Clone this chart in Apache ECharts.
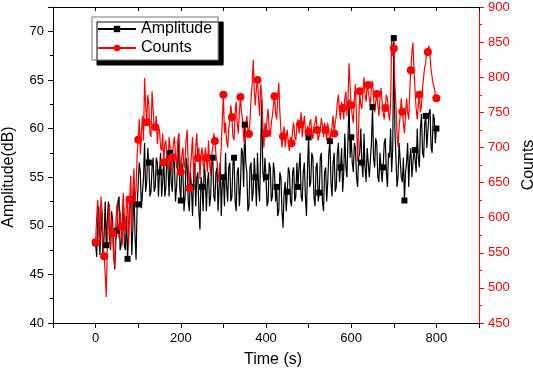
<!DOCTYPE html>
<html>
<head>
<meta charset="UTF-8">
<title>Amplitude and Counts</title>
<style>
    html, body { margin: 0; padding: 0; background: #fff; }
    #chartArea { width: 533px; height: 368px; }
</style>
</head>
<body>
<div id="chartArea"></div>
<script src="https://cdn.jsdelivr.net/npm/echarts@6/dist/echarts.min.js"></script>
<script>
// sampled every 2.5 s, from 0 to 800 s
var timeStep = 2.5;

var amplitude = [
    48.2, 46.8, 50.5, 52.0, 47.0, 49.5, 51.5, 46.5, 49.0, 52.5, 48.0, 50.5, 52.5, 49.0, 47.5, 51.5, 50.5, 47.0, 45.5, 48.5,
    49.5, 52.5, 53.0, 47.5, 48.0, 50.0, 52.8, 48.0, 47.5, 51.0, 46.6, 49.0, 52.5, 53.0, 47.0, 50.0, 54.0, 49.0, 46.5, 52.0,
    52.2, 56.5, 55.5, 51.8, 52.0, 55.0, 58.5, 53.5, 54.5, 58.0, 56.5, 53.0, 53.5, 56.0, 57.0, 53.5, 54.0, 57.0, 56.5, 53.0,
    55.5, 57.5, 53.0, 54.5, 57.0, 53.0, 54.0, 57.5, 56.0, 53.0, 57.5, 54.5, 53.5, 57.0, 56.5, 52.5, 54.0, 56.0, 59.5, 54.0,
    52.6, 56.5, 55.5, 51.5, 53.0, 57.0, 56.0, 52.5, 51.5, 55.5, 54.0, 51.0, 55.0, 56.5, 52.0, 55.0, 55.5, 51.5, 49.6, 55.0,
    54.0, 51.5, 56.5, 55.0, 51.5, 54.5, 55.5, 52.0, 53.0, 56.5, 57.0, 53.0, 52.5, 55.5, 56.0, 51.5, 54.0, 56.5, 51.0, 54.5,
    55.0, 52.0, 57.5, 54.0, 52.5, 56.0, 56.5, 52.5, 53.0, 56.5, 57.0, 52.5, 51.5, 55.5, 56.0, 52.0, 54.0, 58.0, 57.5, 54.0,
    60.4, 56.5, 55.5, 51.5, 52.0, 56.0, 56.5, 52.5, 53.5, 57.0, 55.0, 52.0, 57.5, 54.0, 52.5, 57.5, 63.0, 55.5, 54.5, 57.0,
    55.0, 52.0, 52.5, 56.5, 56.0, 52.5, 53.0, 56.5, 55.5, 52.5, 54.0, 51.0, 51.5, 55.5, 55.0, 51.5, 49.8, 53.5, 54.5, 51.5,
    53.5, 56.0, 55.5, 52.5, 52.0, 55.5, 56.0, 52.5, 53.0, 56.5, 54.0, 56.0, 57.5, 53.0, 52.5, 55.5, 56.5, 53.0, 51.0, 56.0,
    59.1, 54.0, 54.5, 57.5, 57.0, 53.0, 52.0, 56.0, 56.5, 52.5, 53.4, 57.0, 57.5, 52.5, 51.5, 55.5, 56.0, 52.5, 54.5, 57.5,
    58.7, 54.5, 53.0, 56.5, 57.5, 53.5, 54.0, 57.5, 58.5, 54.5, 56.0, 58.0, 53.5, 55.5, 59.5, 56.0, 55.0, 59.0, 63.0, 57.0,
    59.1, 56.5, 55.5, 58.5, 58.0, 55.0, 54.0, 57.0, 57.5, 60.0, 56.5, 55.0, 59.5, 56.0, 54.5, 58.0, 58.0, 55.0, 55.0, 58.5,
    62.2, 57.0, 56.0, 59.0, 58.5, 55.0, 54.5, 57.5, 57.5, 54.5, 56.0, 58.5, 59.0, 55.5, 54.0, 57.5, 57.0, 60.0, 55.5, 58.0,
    69.3, 60.0, 57.0, 54.0, 55.0, 58.5, 58.5, 55.0, 54.5, 57.0, 52.6, 55.5, 56.5, 58.5, 54.0, 57.0, 58.0, 55.0, 55.0, 58.0,
    57.8, 55.5, 60.0, 57.0, 56.0, 60.0, 61.5, 57.5, 57.0, 60.5, 61.3, 58.0, 58.0, 61.5, 62.0, 58.0, 57.5, 61.5, 61.0, 58.5,
    60.0
];

var counts = [
    565, 600, 625, 575, 560, 630, 610, 560, 545, 520, 487, 560, 600, 620, 555, 600, 578, 545, 530, 590,
    620, 590, 570, 610, 587, 560, 635, 600, 575, 630, 615, 560, 626, 660, 580, 640, 670, 620, 640, 690,
    711, 740, 690, 720, 745, 710, 799, 760, 736, 775, 760, 720, 715, 780, 755, 725, 729, 745, 705, 730,
    725, 700, 695, 720, 679, 705, 710, 685, 670, 715, 700, 665, 686, 705, 715, 690, 670, 705, 720, 690,
    665, 690, 700, 670, 680, 710, 725, 675, 642, 670, 690, 715, 665, 650, 700, 720, 685, 700, 655, 690,
    700, 675, 670, 700, 685, 665, 710, 680, 660, 690, 700, 720, 709, 690, 680, 665, 650, 675, 700, 740,
    775, 720, 735, 710, 700, 725, 740, 760, 743, 715, 710, 750, 765, 735, 720, 750, 772, 750, 740, 715,
    705, 730, 745, 725, 719, 740, 770, 790, 825, 780, 760, 785, 796, 770, 745, 790, 775, 730, 700, 735,
    720, 740, 755, 725, 715, 735, 745, 760, 773, 750, 740, 770, 792, 750, 725, 700, 716, 730, 700, 715,
    725, 705, 695, 715, 706, 725, 735, 715, 710, 730, 740, 720, 733, 750, 715, 730, 745, 725, 710, 730,
    722, 735, 740, 720, 712, 730, 735, 745, 725, 710, 708, 725, 742, 730, 715, 735, 725, 710, 735, 720,
    705, 720, 730, 745, 720, 735, 745, 765, 775, 750, 740, 765, 756, 740, 770, 780, 745, 770, 820, 785,
    760, 745, 735, 770, 790, 740, 680, 730, 780, 760, 755, 780, 800, 775, 765, 790, 789, 770, 760, 785,
    795, 770, 750, 765, 776, 760, 745, 770, 785, 765, 750, 740, 756, 775, 770, 750, 738, 760, 856, 830,
    841, 790, 760, 720, 700, 730, 745, 770, 751, 735, 720, 745, 770, 750, 740, 780, 810, 835, 849, 810,
    780, 755, 740, 760, 775, 750, 760, 785, 800, 815, 820, 840, 836, 845, 830, 810, 800, 790, 785, 775,
    770
];

var xTickLabels = [0, 200, 400, 600, 800];

function pairs(values) {
    return values.map(function (v, i) { return [i * timeStep, v]; });
}

var font = 'Liberation Sans, Arial, sans-serif';
var myChart = echarts.init(document.getElementById('chartArea'));

myChart.setOption({
    animation: false,
    backgroundColor: '#fff',
    grid: { left: 53, right: 54, top: 7, bottom: 45, containLabel: false, outerBoundsMode: 'none' },
    legend: {
        left: 92,
        top: 17,
        orient: 'vertical',
        data: ['Amplitude', 'Counts'],
        itemWidth: 38,
        itemHeight: 8,
        itemGap: 3,
        padding: [4, 6, 4, 5],
        backgroundColor: '#fff',
        borderColor: '#777',
        borderWidth: 1,
        borderRadius: 0,
        shadowColor: '#000',
        shadowBlur: 0,
        shadowOffsetX: 5,
        shadowOffsetY: 5,
        textStyle: { fontFamily: font, fontSize: 16, color: '#000' }
    },
    xAxis: [
        {
            type: 'value',
            min: -100,
            max: 900,
            interval: 100,
            name: 'Time (s)',
            nameLocation: 'middle',
            nameGap: 29,
            nameTextStyle: { fontFamily: font, fontSize: 16, color: '#000', padding: [0, 0, 0, 14] },
            axisLine: { show: true, onZero: false, lineStyle: { color: '#000', width: 1 } },
            axisTick: { show: true, inside: false, length: 5, lineStyle: { color: '#000' } },
            axisLabel: {
                margin: 9,
                fontFamily: font,
                fontSize: 13,
                color: '#000',
                formatter: function (v) {
                    return xTickLabels.indexOf(v) >= 0 ? String(v) : '';
                }
            },
            splitLine: { show: false }
        },
        {
            type: 'value',
            position: 'top',
            min: -100,
            max: 900,
            interval: 100,
            axisLine: { show: true, onZero: false, lineStyle: { color: '#000', width: 1 } },
            axisTick: { show: true, inside: true, length: 4, lineStyle: { color: '#000' } },
            axisLabel: { show: false },
            splitLine: { show: false }
        }
    ],
    yAxis: [
        {
            type: 'value',
            min: 40,
            max: 72.5,
            interval: 5,
            name: 'Amplitude(dB)',
            nameLocation: 'middle',
            nameGap: 36,
            nameTextStyle: { fontFamily: font, fontSize: 16, color: '#000', padding: [0, 24, 0, 0] },
            axisLine: { show: true, onZero: false, lineStyle: { color: '#000', width: 1 } },
            axisTick: { show: true, inside: false, length: 5, lineStyle: { color: '#000' } },
            minorTick: { show: true, splitNumber: 2, length: 3, lineStyle: { color: '#000' } },
            axisLabel: {
                margin: 9,
                fontFamily: font,
                fontSize: 13,
                color: '#000',
                formatter: function (v) { return v % 5 === 0 ? String(v) : ''; }
            },
            splitLine: { show: false }
        },
        {
            type: 'value',
            position: 'right',
            min: 450,
            max: 900,
            interval: 50,
            name: 'Counts',
            nameLocation: 'middle',
            nameGap: 36,
            nameTextStyle: { fontFamily: font, fontSize: 16, color: '#000' },
            axisLine: { show: true, onZero: false, lineStyle: { color: '#ff0000', width: 1 } },
            axisTick: { show: true, inside: false, length: 5, lineStyle: { color: '#ff0000' } },
            minorTick: { show: true, splitNumber: 2, length: 3, lineStyle: { color: '#ff0000' } },
            axisLabel: { margin: 9, fontFamily: font, fontSize: 13, color: '#ff0000' },
            splitLine: { show: false }
        }
    ],
    series: [
        {
            name: 'Amplitude',
            type: 'line',
            xAxisIndex: 0,
            yAxisIndex: 0,
            data: pairs(amplitude),
            symbol: 'rect',
            showAllSymbol: true,
            symbolSize: function (v, p) { return p.dataIndex % 10 === 0 ? 6 : 0; },
            itemStyle: { color: '#000' },
            lineStyle: { color: '#000', width: 1.2 }
        },
        {
            name: 'Counts',
            type: 'line',
            xAxisIndex: 0,
            yAxisIndex: 1,
            data: pairs(counts),
            symbol: 'circle',
            showAllSymbol: true,
            symbolSize: function (v, p) { return p.dataIndex % 8 === 0 ? 8 : 0; },
            itemStyle: { color: '#ff0000' },
            lineStyle: { color: '#ff0000', width: 1.2 }
        }
    ]
});
</script>
</body>
</html>
